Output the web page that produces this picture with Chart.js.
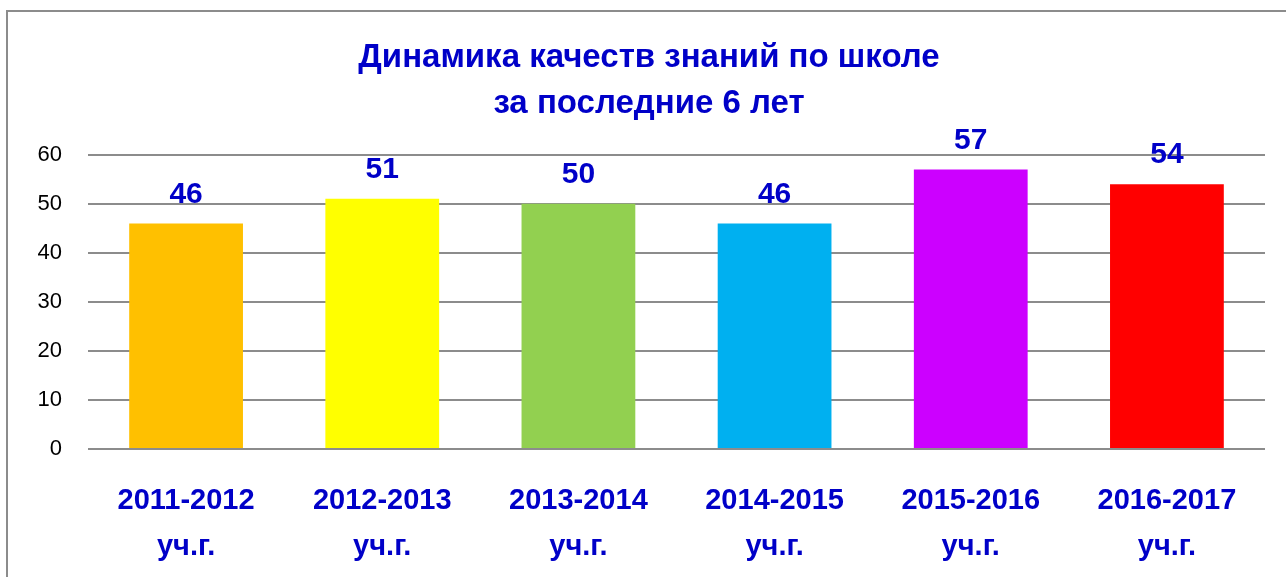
<!DOCTYPE html>
<html>
<head>
<meta charset="utf-8">
<script src="https://cdn.jsdelivr.net/npm/chart.js@4"></script>
<style>
  html, body { margin: 0; padding: 0; background: #fff; overflow: hidden; }
  #frame { position: absolute; left: 6px; top: 10px; width: 1300px; height: 600px; border: 2px solid #8c8c8c; box-sizing: border-box; }
  #wrap { position: absolute; left: 0; top: 0; width: 1286px; height: 577px; }
</style>
</head>
<body>
<div id="frame"></div>
<div id="wrap"><canvas id="chart"></canvas></div>
<script>
const titleLines = ['Динамика качеств знаний по школе', 'за последние 6 лет']
const years = ['2011-2012', '2012-2013', '2013-2014', '2014-2015', '2015-2016', '2016-2017']
const yearSuffix = 'уч.г.'
const quality = [46, 51, 50, 46, 57, 54]
const barColors = ['#FFC000', '#FFFF00', '#92D050', '#00B0F0', '#CC00FF', '#FF0000']
const blue = '#0000C8'
const font = "'Liberation Sans', Arial, sans-serif"

// values above bars
const valueLabels = {
  id: 'valueLabels',
  afterDatasetsDraw(chart) {
    const ctx = chart.ctx
    const meta = chart.getDatasetMeta(0)
    ctx.save()
    ctx.font = 'bold 30px ' + font
    ctx.fillStyle = blue
    ctx.textAlign = 'center'
    ctx.textBaseline = 'middle'
    meta.data.forEach((bar, i) => {
      ctx.fillText(String(quality[i]), bar.x, bar.y - 29)
    })
    ctx.restore()
  }
}

new Chart(document.getElementById('chart'), {
  type: 'bar',
  data: {
    labels: years.map(y => [y, yearSuffix]),
    datasets: [{
      data: quality,
      backgroundColor: barColors,
      borderWidth: 0,
      barPercentage: 0.58,
      categoryPercentage: 1
    }]
  },
  plugins: [valueLabels],
  options: {
    responsive: true,
    maintainAspectRatio: false,
    animation: false,
    layout: { padding: { top: 20, right: 21, left: 33, bottom: 0 } },
    plugins: {
      legend: { display: false },
      tooltip: { enabled: false },
      title: {
        display: true,
        text: titleLines,
        color: blue,
        font: { family: font, size: 33, weight: 'bold', lineHeight: 1.42 },
        padding: { top: 14, bottom: 27 }
      }
    },
    scales: {
      x: {
        grid: { display: false, drawTicks: false },
        border: { display: false },
        ticks: {
          color: blue,
          font: { family: font, size: 29, weight: 'bold', lineHeight: 1.58 },
          padding: 29,
          maxRotation: 0
        },
        afterFit(scale) { scale.height = 128 }
      },
      y: {
        min: 0,
        max: 60,
        ticks: {
          stepSize: 10,
          color: '#000',
          font: { family: font, size: 22 },
          padding: 26
        },
        grid: { color: '#8c8c8c', lineWidth: 2, drawTicks: false },
        border: { display: false },
        afterFit(scale) { scale.width = 55 }
      }
    }
  }
})
</script>
</body>
</html>
